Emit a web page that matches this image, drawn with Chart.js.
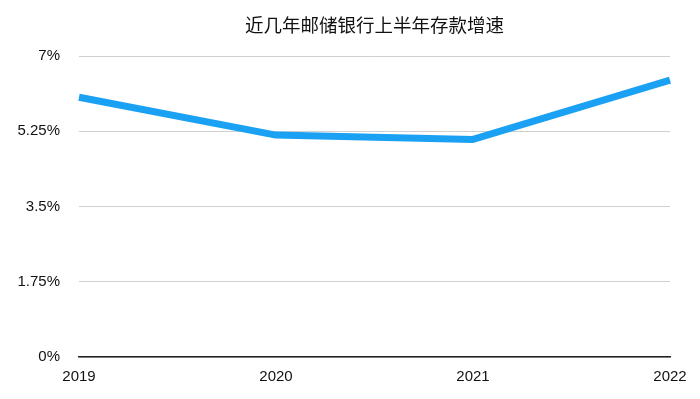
<!DOCTYPE html>
<html>
<head>
<meta charset="utf-8">
<script src="https://cdn.jsdelivr.net/npm/chart.js@4/dist/chart.umd.min.js"></script>
<style>
  html, body { margin: 0; padding: 0; background: #fff; }
  #wrap { width: 700px; height: 399px; }
</style>
</head>
<body>
<div id="wrap"><canvas id="c"></canvas></div>
<script>
const title = '近几年邮储银行上半年存款增速';
const years = ['2019', '2020', '2021', '2022'];
const growth = [6.04, 5.16, 5.06, 6.44];
const yTicks = [0, 1.75, 3.5, 5.25, 7];

const font = '"Liberation Sans", Arial, sans-serif';

// title centred over the plot area, like the original
const areaTitle = {
    id: 'areaTitle',
    afterDraw(chart) {
        const { ctx, chartArea } = chart;
        ctx.save();
        ctx.font = '18.5px "Noto Sans CJK SC", sans-serif';
        ctx.fillStyle = '#111';
        ctx.textAlign = 'center';
        ctx.textBaseline = 'middle';
        ctx.fillText(title, (chartArea.left + chartArea.right) / 2, 25);
        ctx.restore();
    }
};

new Chart(document.getElementById('c'), {
    type: 'line',
    data: {
        labels: years,
        datasets: [{
            data: growth,
            borderColor: '#1ba1f4',
            borderWidth: 7,
            borderJoinStyle: 'round',
            pointRadius: 0,
            tension: 0,
            fill: false
        }]
    },
    options: {
        responsive: true,
        maintainAspectRatio: false,
        animation: false,
        layout: { padding: { top: 56, right: 30, left: 0, bottom: 0 } },
        plugins: {
            legend: { display: false },
            tooltip: { enabled: false }
        },
        scales: {
            x: {
                offset: false,
                grid: { display: false, drawTicks: false },
                border: { display: true, color: '#222', width: 1.5 },
                ticks: { color: '#111', font: { family: font, size: 15 }, padding: 11, maxRotation: 0, autoSkip: false },
                afterFit: s => { s.height = 42; }
            },
            y: {
                min: 0,
                max: 7,
                afterBuildTicks: s => { s.ticks = yTicks.map(v => ({ value: v })); },
                grid: { color: '#d0d0d0', lineWidth: 1, drawTicks: false },
                border: { display: false },
                ticks: {
                    color: '#111',
                    font: { family: font, size: 15 },
                    padding: 19,
                    callback: v => v + '%'
                },
                afterFit: s => { s.width = 79; }
            }
        }
    },
    plugins: [areaTitle]
});
</script>
</body>
</html>
